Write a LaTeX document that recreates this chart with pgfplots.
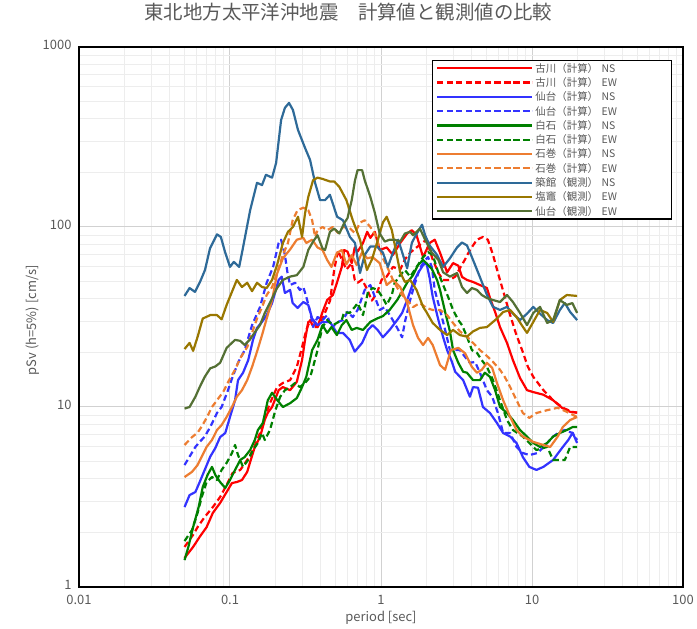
\documentclass[border=0pt]{standalone}
\usepackage{fontspec}
\setmainfont{Noto Sans CJK JP}
\usepackage{pgfplots}
\pgfplotsset{compat=1.18}
\definecolor{cRed}{RGB}{255,0,0}
\definecolor{cBlue}{RGB}{51,51,255}
\definecolor{cGreen}{RGB}{0,128,0}
\definecolor{cOrange}{RGB}{237,125,49}
\definecolor{cSteel}{RGB}{46,106,152}
\definecolor{cOlive}{RGB}{153,119,0}
\definecolor{cDkGreen}{RGB}{84,112,52}
\definecolor{txtgray}{RGB}{89,89,89}
\begin{document}
\begin{tikzpicture}
\path[use as bounding box] (-79bp,-42bp) rectangle (618bp,587bp);
\begin{axis}[
  scale only axis, width=604bp, height=540bp,
  at={(0,0)}, anchor=south west,
  xmode=log, ymode=log,
  xmin=0.01, xmax=100, ymin=1, ymax=1000,
  xtick={0.01,0.1,1,10,100}, xticklabels={0.01,0.1,1,10,100},
  ytick={1,10,100,1000}, yticklabels={1,10,100,1000},
  minor xtick={0.02,0.03,0.04,0.05,0.06,0.07,0.08,0.09,0.2,0.3,0.4,0.5,0.6,0.7,0.8,0.9,2,3,4,5,6,7,8,9,20,30,40,50,60,70,80,90},
  minor ytick={2,3,4,5,6,7,8,9,20,30,40,50,60,70,80,90,200,300,400,500,600,700,800,900},
  grid=both,
  major grid style={draw=black!18, line width=1bp},
  minor grid style={draw=black!7, line width=0.9bp},
  major tick length=0pt, minor tick length=0pt,
  axis line style={black, line width=1.2bp},
  ticklabel style={font=\fontsize{13}{15}\selectfont, text=txtgray},
  xticklabel style={yshift=-5bp},
  yticklabel style={xshift=-4bp, yshift=2bp},
  xlabel={period [sec]},
  ylabel={pSv (h=5\%) [cm/s]},
  label style={font=\fontsize{13}{15}\selectfont, text=txtgray},
  xlabel style={at={(axis description cs:0.5,-0.0574)}, anchor=center},
  ylabel style={at={(axis description cs:-0.0762,0.494)}, anchor=center},
  title={東北地方太平洋沖地震　計算値と観測値の比較},
  title style={at={(axis description cs:0.446,1.0537)}, anchor=center, font=\fontsize{19.5}{22}\selectfont, text=txtgray},
  legend style={at={(axis description cs:0.9818,0.9759)}, anchor=north east,
    draw=black, line width=1.2bp, fill=white,
    inner xsep=4bp, inner ysep=0.5bp,
    font=\fontsize{10.5}{12}\selectfont, text=txtgray,
    nodes={inner ysep=1bp, text height=10bp, text depth=2.3bp, text width=130bp},
    row sep=0pt},
  legend cell align=left,
  legend image code/.code={\path (-58bp,0bp) -- (37bp,0bp); \draw[#1] (0bp,0bp) -- (37bp,0bp);},
  every axis plot/.append style={line width=2.2bp, line join=round},
]
% 古川（計算） NS
\addplot[cRed] coordinates {(0.05,1.45)(0.057,1.67)(0.063,1.90)(0.07,2.15)(0.077,2.58)(0.086,2.93)(0.095,3.37)(0.103,3.78)(0.111,3.83)(0.12,3.93)(0.13,4.36)(0.136,4.95)(0.146,6.0)(0.158,6.8)(0.17,8.5)(0.178,9.3)(0.19,10)(0.21,12.4)(0.224,12.9)(0.25,12.4)(0.277,13.8)(0.3,18.2)(0.314,23.6)(0.33,29.7)(0.355,30.4)(0.38,27.8)(0.41,33.7)(0.44,39.3)(0.48,41.9)(0.51,48.8)(0.55,60)(0.57,74.5)(0.6,73)(0.64,63)(0.67,77)(0.7,73)(0.76,81.5)(0.81,94)(0.85,87)(0.91,94)(0.98,74.5)(1.09,77)(1.2,70)(1.34,81.5)(1.49,92)(1.6,96)(1.72,90)(1.9,68)(2.1,81.5)(2.27,85)(2.46,72)(2.74,56)(3.0,63)(3.25,61)(3.44,52.8)(3.71,50.8)(4.07,49.5)(4.52,47.6)(5.03,45.8)(5.27,40.3)(5.7,33.7)(6.14,27.8)(6.83,22.7)(7.48,18.2)(8.33,14.5)(9.27,12.4)(10.2,12.1)(11.9,11.7)(13.8,10.9)(15.8,9.9)(17.9,9.4)(19.9,9.3)};
\addlegendentry{古川（計算） NS}
% 古川（計算） EW
\addplot[cRed, dash pattern=on 6bp off 3.5bp] coordinates {(0.05,1.67)(0.057,1.95)(0.061,2.15)(0.068,2.45)(0.077,2.78)(0.086,3.16)(0.095,3.69)(0.104,4.3)(0.117,4.47)(0.13,5.08)(0.142,5.77)(0.158,7.17)(0.17,8.8)(0.184,10.5)(0.205,12.9)(0.224,13.6)(0.25,14.1)(0.277,16.7)(0.3,21.5)(0.32,26.8)(0.34,30.4)(0.355,27.8)(0.38,27.8)(0.41,31)(0.46,39)(0.49,58)(0.52,74)(0.55,66)(0.59,58)(0.64,63)(0.67,51)(0.7,49)(0.75,51)(0.81,45)(0.87,39)(0.94,43)(1.01,51)(1.09,53)(1.2,60)(1.34,58)(1.44,66)(1.56,72)(1.72,77)(1.87,81.5)(2.0,85)(2.1,74.5)(2.2,66)(2.4,55.5)(2.58,50.8)(2.86,50.8)(3.1,53)(3.33,59)(3.6,66)(3.88,74.5)(4.32,85)(4.73,88)(5.1,85)(5.52,70)(5.95,55.5)(6.5,43)(7.0,34.6)(7.8,25.8)(8.6,20.7)(9.4,16.7)(10.2,14.7)(11.9,12.4)(13.8,10.9)(16,9.9)(18.5,9.4)(19.9,9.3)};
\addlegendentry{古川（計算） EW}
% 仙台（計算） NS
\addplot[cBlue] coordinates {(0.05,2.78)(0.054,3.24)(0.059,3.37)(0.063,3.83)(0.068,4.47)(0.074,5.3)(0.08,5.92)(0.086,6.8)(0.093,7.17)(0.1,8.8)(0.108,10.9)(0.113,14.1)(0.122,15.5)(0.132,18.2)(0.142,23.6)(0.151,27.5)(0.163,29.7)(0.175,32.4)(0.19,37.8)(0.21,50.8)(0.22,53)(0.231,43)(0.25,44.7)(0.26,37.8)(0.28,35.5)(0.306,38.3)(0.33,36.9)(0.35,31)(0.38,28.5)(0.41,29.7)(0.459,29.7)(0.51,25.8)(0.56,25.8)(0.62,23.6)(0.67,20.3)(0.75,22.7)(0.82,26.8)(0.88,28.5)(0.95,26.8)(1.03,24.4)(1.14,26.8)(1.28,30.4)(1.38,33.3)(1.49,39.3)(1.63,48.8)(1.76,55.5)(1.9,61.5)(2.0,63)(2.1,52)(2.2,41)(2.4,30.4)(2.58,24.4)(2.74,20.7)(2.95,17.8)(3.1,15.7)(3.5,14.1)(3.88,11.4)(4.07,12.9)(4.39,12.8)(4.73,10)(5.27,9.26)(5.86,8.15)(6.44,7.17)(7.17,6.85)(7.9,6.31)(8.7,5.27)(9.6,4.65)(10.7,4.47)(11.9,4.65)(13.8,5.08)(16,6.0)(17.4,6.56)(18.6,7.2)(19.9,6.31)};
\addlegendentry{仙台（計算） NS}
% 仙台（計算） EW
\addplot[cBlue, dash pattern=on 6bp off 3.5bp] coordinates {(0.05,4.76)(0.054,5.3)(0.059,6.0)(0.063,6.4)(0.068,6.85)(0.074,7.74)(0.082,9.26)(0.088,10)(0.097,12.4)(0.104,14.7)(0.113,17.6)(0.125,20.7)(0.14,28.5)(0.158,35.9)(0.175,49)(0.193,60)(0.21,81.5)(0.218,85)(0.231,70)(0.24,56)(0.25,47.6)(0.27,49)(0.29,44.7)(0.306,46.4)(0.32,41)(0.34,33.7)(0.355,27.8)(0.38,31.6)(0.41,30.4)(0.44,32.4)(0.47,27.5)(0.52,29.7)(0.56,30.4)(0.6,33.7)(0.65,31.6)(0.7,34.6)(0.78,44.7)(0.85,47.6)(0.91,41)(0.98,34.6)(1.06,35.9)(1.18,31)(1.28,27.5)(1.38,24.4)(1.44,29.7)(1.56,39.3)(1.68,48.8)(1.81,59)(1.96,65.6)(2.05,68)(2.17,60)(2.27,44.7)(2.46,34.6)(2.66,26.8)(2.86,20.7)(3.1,20.7)(3.33,20.7)(3.6,19)(3.88,17.6)(4.2,17.8)(4.52,15.5)(5.03,12.4)(5.45,11.4)(5.95,9.26)(6.44,7.17)(7.17,7.17)(7.9,6.0)(8.7,5.55)(9.6,5.41)(10.9,5.55)(12.6,6.31)(13.8,6.85)(15.3,7.3)(16.5,7.45)(18.5,7.17)(19.9,6.56)};
\addlegendentry{仙台（計算） EW}
% 白石（計算） NS
\addplot[cGreen] coordinates {(0.05,1.41)(0.053,1.67)(0.057,2.15)(0.062,2.78)(0.066,3.59)(0.071,4.19)(0.076,4.65)(0.08,4.19)(0.086,3.83)(0.093,3.55)(0.1,3.93)(0.108,4.47)(0.117,5.08)(0.125,5.27)(0.136,5.77)(0.146,6.56)(0.153,7.45)(0.165,8.15)(0.178,10.9)(0.19,12)(0.206,10.9)(0.224,10)(0.25,10.5)(0.277,11.2)(0.3,12.9)(0.32,14.7)(0.35,20.7)(0.38,23.6)(0.41,28.5)(0.44,25.8)(0.47,27.8)(0.51,25.1)(0.55,28.5)(0.59,30.4)(0.64,26.8)(0.69,27.5)(0.76,26.8)(0.85,29.7)(0.94,31)(1.03,32)(1.14,34.6)(1.28,39.3)(1.4,44.7)(1.5,49.5)(1.63,54)(1.76,61.5)(1.9,65.6)(2.05,61.5)(2.17,58.5)(2.35,50.8)(2.46,44.7)(2.66,33.7)(2.86,26.3)(3.0,20.7)(3.25,17.6)(3.5,15.7)(3.71,15.5)(4.07,14.1)(4.52,14.1)(4.87,15.5)(5.27,14.7)(5.7,12.4)(6.14,10)(6.83,9.26)(7.48,8.47)(8.33,7.45)(9.27,6.85)(10.2,6.31)(11.3,6.0)(12.6,6.31)(13.8,6.85)(15.3,7.17)(17,7.45)(18.6,7.74)(19.9,7.74)};
\addlegendentry{白石（計算） NS}
% 白石（計算） EW
\addplot[cGreen, dash pattern=on 6bp off 3.5bp] coordinates {(0.05,1.8)(0.056,2.07)(0.061,2.58)(0.065,3.16)(0.07,3.83)(0.076,4.08)(0.082,3.93)(0.088,4.47)(0.095,4.89)(0.103,5.55)(0.108,6.15)(0.113,5.41)(0.122,4.65)(0.132,5.08)(0.142,5.77)(0.153,6.31)(0.163,7.17)(0.17,6.56)(0.184,7.45)(0.2,9.62)(0.215,11.4)(0.231,12.4)(0.25,12.9)(0.27,13.6)(0.29,12.9)(0.314,13.6)(0.34,14.7)(0.355,16.7)(0.38,20.7)(0.395,24.4)(0.41,27.8)(0.44,30.4)(0.48,28.5)(0.51,29.3)(0.55,30.4)(0.57,33.7)(0.62,33.3)(0.67,35.9)(0.7,37.8)(0.76,32.4)(0.82,43.6)(0.88,45.8)(0.95,44.7)(1.03,40.3)(1.09,36.9)(1.18,41.9)(1.23,48.8)(1.34,54)(1.44,57.7)(1.56,53)(1.72,59.9)(1.9,68)(2.05,72.5)(2.2,70)(2.4,55.5)(2.58,47.6)(2.78,41)(3.0,34.6)(3.25,30.4)(3.44,28.5)(3.71,24.6)(4.0,20.7)(4.32,20)(4.65,18.2)(5.03,16.7)(5.52,14.1)(6.14,10.9)(6.83,8.47)(7.48,7.45)(8.7,6.85)(9.6,6.31)(10.7,5.77)(12.6,6)(13.8,5.08)(15.3,5.08)(16.5,5.08)(17.9,6)(19.9,6)};
\addlegendentry{白石（計算） EW}
% 石巻（計算） NS
\addplot[cOrange] coordinates {(0.05,4.08)(0.056,4.36)(0.061,4.76)(0.065,5.3)(0.07,6.0)(0.076,6.56)(0.082,7.45)(0.088,7.94)(0.095,8.8)(0.103,10)(0.111,11.4)(0.12,12.4)(0.13,14.1)(0.14,16.7)(0.151,20.3)(0.163,25.1)(0.175,31)(0.19,39.3)(0.205,55)(0.224,67)(0.25,75)(0.277,85)(0.306,87)(0.32,81.5)(0.35,85)(0.38,77)(0.41,74.5)(0.44,65.6)(0.47,60)(0.51,71.7)(0.55,74.5)(0.59,62)(0.64,69.9)(0.69,61.5)(0.75,72.5)(0.81,67)(0.88,68)(0.98,63)(1.09,47.6)(1.2,50.8)(1.34,46.4)(1.49,37.8)(1.63,28.5)(1.76,24.2)(1.9,22.1)(2.05,24.2)(2.2,22.1)(2.46,17.1)(2.66,16.1)(2.9,20.7)(3.25,21.3)(3.6,19.9)(4.0,16.7)(4.32,15.5)(4.65,16.1)(5.03,17.6)(5.45,16.5)(5.86,13.6)(6.44,10.9)(7.17,8.8)(7.9,7.45)(8.7,6.85)(10.2,6.4)(11.9,6.15)(13.2,6.0)(14.8,6.85)(16,7.74)(17.9,8.47)(19.9,8.8)};
\addlegendentry{石巻（計算） NS}
% 石巻（計算） EW
\addplot[cOrange, dash pattern=on 6bp off 3.5bp] coordinates {(0.05,6.15)(0.056,6.8)(0.061,7.2)(0.065,7.8)(0.07,8.7)(0.076,10)(0.082,10.9)(0.09,12.1)(0.1,14.4)(0.108,16.1)(0.117,18.7)(0.13,21.5)(0.14,25.8)(0.151,31)(0.163,35.9)(0.175,41.9)(0.19,46.4)(0.21,59)(0.224,70)(0.242,81.5)(0.26,109)(0.28,124)(0.306,128)(0.33,124)(0.35,109)(0.366,88)(0.38,96)(0.41,100)(0.44,96)(0.48,100)(0.52,92.6)(0.56,100)(0.62,98.7)(0.67,92.6)(0.73,106)(0.78,109)(0.85,100)(0.92,90)(1.03,67)(1.11,59)(1.2,50.8)(1.34,43)(1.49,39.3)(1.63,35.9)(1.81,37.8)(2.0,35.5)(2.2,34.6)(2.46,34.6)(2.74,32.4)(3.0,29.3)(3.33,26.3)(3.71,24.6)(4.07,22.7)(4.52,20.7)(5.03,19.2)(5.52,17.8)(6.14,16.1)(6.6,14.7)(7.17,12.9)(7.9,10.9)(8.7,9.26)(9.6,8.7)(10.7,9.26)(12.6,9.6)(14.8,9.9)(17,9.4)(19.9,8.8)};
\addlegendentry{石巻（計算） EW}
% 築館（観測） NS
\addplot[cSteel] coordinates {(0.05,41.4)(0.054,45.8)(0.0586,43.6)(0.0633,49.5)(0.0683,57.7)(0.0737,76)(0.082,91)(0.087,88)(0.093,72)(0.1,60)(0.106,64)(0.115,60)(0.122,77)(0.136,124)(0.151,176)(0.163,171)(0.173,195)(0.19,188)(0.202,227)(0.218,393)(0.231,459)(0.246,489)(0.261,447)(0.282,346)(0.314,275)(0.339,236)(0.366,176)(0.395,141)(0.426,141)(0.459,151)(0.512,114)(0.56,109)(0.623,88)(0.673,81.5)(0.726,55.5)(0.78,70)(0.85,78)(0.94,78)(1.03,72)(1.11,60)(1.2,72)(1.3,85)(1.49,59)(1.6,81.5)(1.7,90)(1.87,103)(1.96,90)(2.1,79)(2.35,70)(2.58,60)(2.86,67)(3.19,77)(3.44,82)(3.71,79)(4.0,68)(4.39,56)(5.03,42)(5.52,36)(6.14,34.6)(6.83,36)(7.48,33)(8.33,30.4)(9.27,33)(10.2,36)(11.3,33)(12.6,30.4)(13.8,29.3)(15.3,34.6)(16.5,37.8)(17.9,33.7)(19.9,30.4)};
\addlegendentry{築館（観測） NS}
% 塩竈（観測） EW
\addplot[cOlive] coordinates {(0.05,21)(0.054,22.7)(0.057,20.5)(0.061,24.5)(0.066,31)(0.074,32.4)(0.082,32.4)(0.088,30.7)(0.095,36.9)(0.103,43.6)(0.111,50.8)(0.12,46.4)(0.13,49)(0.14,44)(0.151,49)(0.163,46.4)(0.175,45.8)(0.19,50.8)(0.205,61.5)(0.224,81.5)(0.242,94)(0.261,100)(0.282,114)(0.3,88)(0.314,119)(0.33,147)(0.355,182)(0.38,188)(0.41,185)(0.459,179)(0.49,179)(0.53,167)(0.59,141)(0.65,109)(0.726,85)(0.807,57.7)(0.871,66)(0.94,81.5)(1.03,106)(1.09,114)(1.18,96)(1.28,68)(1.34,56)(1.44,49.5)(1.56,50.8)(1.72,44.7)(1.9,36)(2.0,33.7)(2.2,29.3)(2.46,26.8)(2.74,25.1)(3.0,26.8)(3.33,25.1)(3.71,24.6)(4.07,26.3)(4.52,27.5)(5.03,27.8)(5.86,31)(6.44,33.7)(7.17,34.6)(7.9,31.6)(8.55,28.5)(9.27,25.8)(10.2,29.7)(11.3,34.6)(12.6,33.3)(13.8,29.7)(15.3,39.3)(17,41.9)(19.9,41.4)};
\addlegendentry{塩竈（観測） EW}
% 仙台（観測） EW
\addplot[cDkGreen] coordinates {(0.05,9.8)(0.054,10)(0.059,11.4)(0.063,12.9)(0.068,14.7)(0.074,16.4)(0.08,16.8)(0.086,17.6)(0.095,21.3)(0.108,23.6)(0.117,23.3)(0.125,22.1)(0.136,23.8)(0.146,26)(0.158,28.5)(0.17,33.3)(0.184,38)(0.205,45.8)(0.224,50.8)(0.25,53)(0.277,54)(0.306,60)(0.33,74.5)(0.355,83)(0.38,90)(0.41,76)(0.426,74.5)(0.459,94)(0.49,98)(0.53,92)(0.57,105)(0.6,112)(0.64,141)(0.673,182)(0.7,207)(0.75,207)(0.78,182)(0.85,147)(0.91,120)(0.98,92)(1.06,83)(1.14,85)(1.23,85)(1.34,83)(1.44,92)(1.56,94)(1.63,90)(1.81,98)(1.96,85)(2.17,72)(2.4,65.6)(2.58,56)(2.86,53)(3.19,55.5)(3.44,46.4)(3.71,43)(4.0,45.8)(4.32,44.7)(4.65,41.9)(5.03,40.3)(5.52,39.3)(6.14,38.3)(6.83,41.9)(7.48,38.3)(8.33,33.3)(9.27,28.5)(10.2,33.3)(11.3,36)(12.6,29.3)(13.8,30.4)(15.3,39.3)(17,36.9)(18.5,37.8)(19.9,33.3)};
\addlegendentry{仙台（観測） EW}
\end{axis}
\end{tikzpicture}
\end{document}
